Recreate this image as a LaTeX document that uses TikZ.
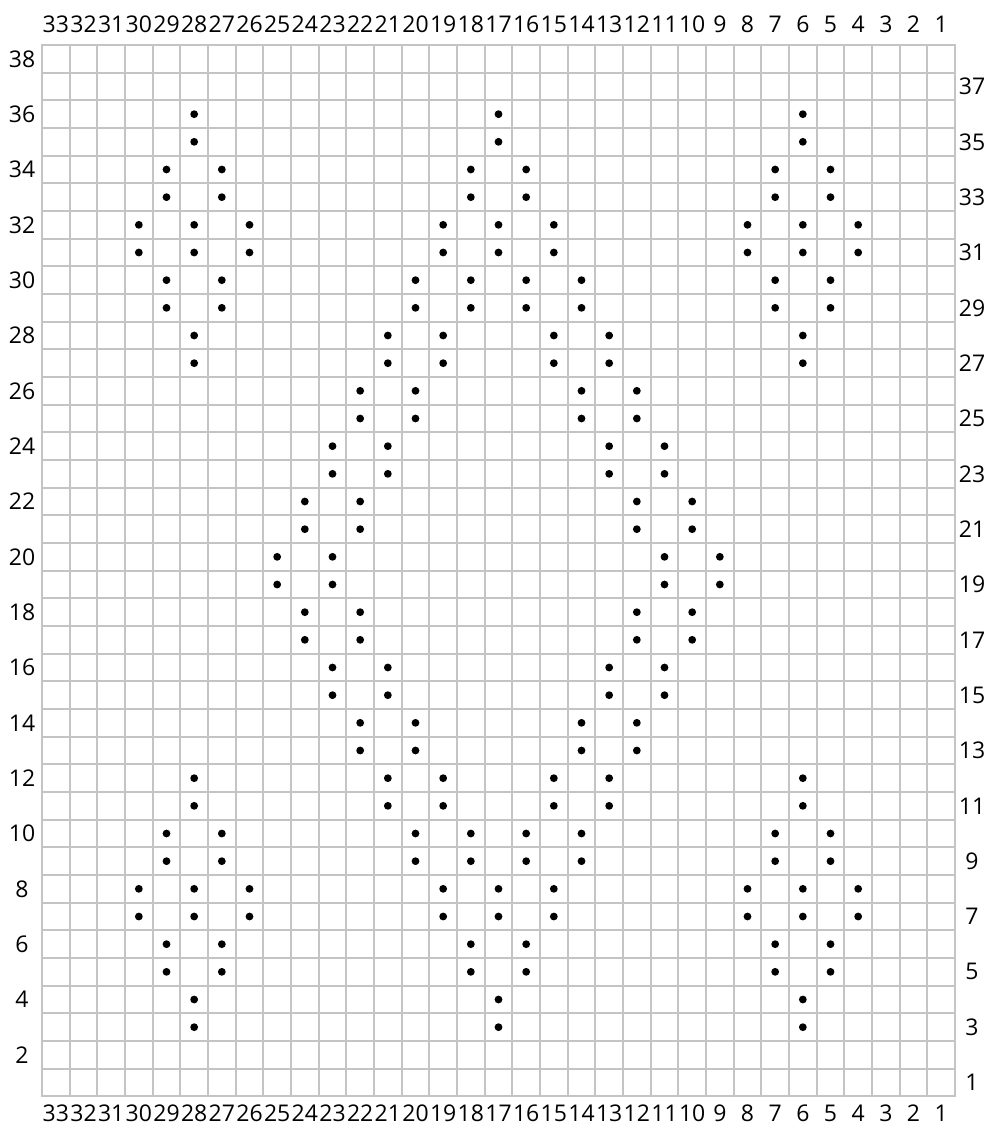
\documentclass[tikz,border=0pt]{standalone}
\usepackage{fontspec}
\setmainfont{Open Sans}
\definecolor{gridgray}{RGB}{196,196,196}
\begin{document}
\begin{tikzpicture}[x=1pt,y=-1pt,
  gridline/.style={draw=gridgray,line width=2pt},
  numlabel/.style={font=\fontsize{23}{27}\selectfont,inner sep=0pt,anchor=center},
  stitch/.style={fill=black}]
\useasboundingbox[fill=white] (0,0) rectangle (984,1126);
\def\s{27.6667}
\def\gx{42}
\def\gy{45}
% grid
\foreach \i in {0,...,33} \draw[gridline] ({round(\gx+\i*\s)},\gy) -- ({round(\gx+\i*\s)},{\gy+38*\s});
\foreach \j in {0,...,38} \draw[gridline] (\gx-1,{round(\gy+\j*\s)}) -- ({\gx+33*\s+1},{round(\gy+\j*\s)});
% column labels
\foreach \c in {1,...,33} {
  \node[numlabel] (top-\c) at ({\gx+(33-\c+0.5)*\s},24.5) {\c};
  \node[numlabel] (bot-\c) at ({\gx+(33-\c+0.5)*\s},1113) {\c};
}
% row labels
\foreach \r in {2,4,...,38}
  \node[numlabel] (left-\r) at (22,{\gy+(38-\r+0.5)*\s}) {\r};
\foreach \r in {1,3,...,37}
  \node[numlabel] (right-\r) at (972,{\gy+(38-\r+0.5)*\s}) {\r};
% stitches
\foreach \r/\cols in {3/{28,17,6},5/{29,27,18,16,7,5},7/{30,28,26,19,17,15,8,6,4},
  9/{29,27,20,18,16,14,7,5},11/{28,21,19,15,13,6},13/{22,20,14,12},15/{23,21,13,11},
  17/{24,22,12,10},19/{25,23,11,9},21/{24,22,12,10},23/{23,21,13,11},25/{22,20,14,12},
  27/{28,21,19,15,13,6},29/{29,27,20,18,16,14,7,5},31/{30,28,26,19,17,15,8,6,4},
  33/{29,27,18,16,7,5},35/{28,17,6}} {
  \foreach \c in \cols {
    \fill[stitch] ({\gx+(33-\c+0.5)*\s},{\gy+(38-\r+0.5)*\s}) circle[radius=3.9];
    \fill[stitch] ({\gx+(33-\c+0.5)*\s},{\gy+(38-\r-0.5)*\s}) circle[radius=3.9];
  }
}
\end{tikzpicture}
\end{document}
